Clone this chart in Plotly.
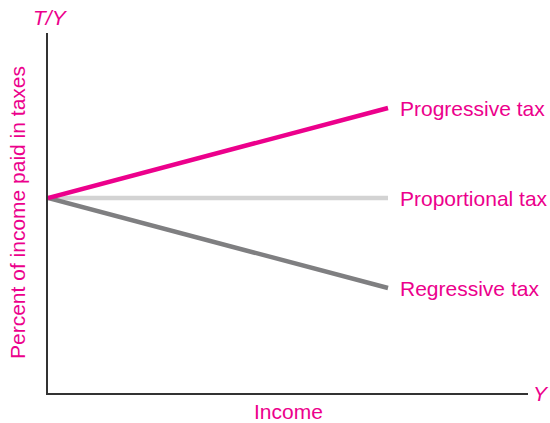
import plotly.graph_objects as go

# Data
income = [0, 8.5]
progressive = [6.5, 9.5]
proportional = [6.5, 6.5]
regressive = [6.5, 3.5]
series_names = ["Proportional tax", "Regressive tax", "Progressive tax"]

PINK = "#EC008C"
DARK = "#7F7F81"
LIGHT = "#D3D3D3"
FONT = "Liberation Sans, Arial, sans-serif"
FS = 21

fig = go.Figure()
fig.add_trace(go.Scatter(x=income, y=proportional, mode="lines",
                         line=dict(color=LIGHT, width=4.5), name=series_names[0]))
fig.add_trace(go.Scatter(x=income, y=regressive, mode="lines",
                         line=dict(color=DARK, width=4.5), name=series_names[1]))
fig.add_trace(go.Scatter(x=income, y=progressive, mode="lines",
                         line=dict(color=PINK, width=4.5), name=series_names[2]))

label_x = 8.75
for name, ys in zip(series_names, [proportional, regressive, progressive]):
    fig.add_annotation(x=label_x, y=ys[-1], text=name, showarrow=False,
                       xanchor="left", yanchor="middle",
                       font=dict(color=PINK, size=FS, family=FONT))

fig.add_annotation(xref="paper", yref="paper", x=0.502, y=0, yshift=-18,
                   text="Income", showarrow=False, xanchor="center", yanchor="middle",
                   font=dict(color=PINK, size=FS, family=FONT))
fig.add_annotation(xref="paper", yref="paper", x=0, y=0.50, xshift=-31,
                   text="Percent of income paid in taxes", showarrow=False, textangle=-90,
                   xanchor="center", yanchor="middle",
                   font=dict(color=PINK, size=FS, family=FONT))
fig.add_annotation(xref="paper", yref="paper", x=0, y=1, xshift=2, yshift=16,
                   text="<i>T/Y</i>", showarrow=False, xanchor="center", yanchor="middle",
                   font=dict(color=PINK, size=FS, family=FONT))
fig.add_annotation(xref="paper", yref="paper", x=1, y=0, xshift=13, yshift=0,
                   text="<i>Y</i>", showarrow=False, xanchor="center", yanchor="middle",
                   font=dict(color=PINK, size=FS, family=FONT))

fig.update_layout(
    width=550, height=423,
    margin=dict(l=48, r=22, t=33, b=30),
    paper_bgcolor="white", plot_bgcolor="white",
    showlegend=False,
)
fig.update_xaxes(range=[0, 12], showgrid=False, zeroline=False, showticklabels=False,
                 ticks="", showline=True, linecolor="#333333", linewidth=1.5)
fig.update_yaxes(range=[0, 12], showgrid=False, zeroline=False, showticklabels=False,
                 ticks="", showline=True, linecolor="#333333", linewidth=1.5)

# Remove the default 8px page margin so the figure sits at the window's corner.
fig.write_html("out.html", config={"displayModeBar": False},
               post_script="document.body.style.margin='0';document.body.style.overflow='hidden';")
